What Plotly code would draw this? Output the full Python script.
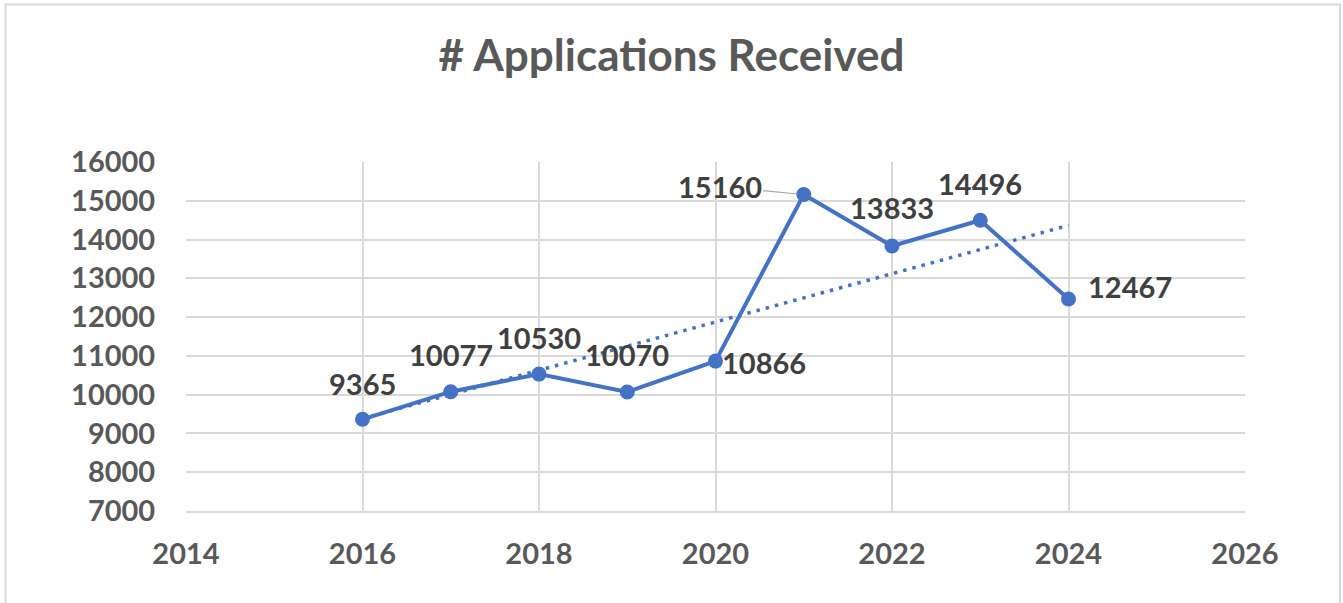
import numpy as np
import plotly.graph_objects as go

years = [2016, 2017, 2018, 2019, 2020, 2021, 2022, 2023, 2024]
applications = [9365, 10077, 10530, 10070, 10866, 15160, 13833, 14496, 12467]
x_ticks = [2014, 2016, 2018, 2020, 2022, 2024, 2026]
y_ticks = list(range(7000, 16001, 1000))
title_text = "# Applications Received"

BLUE = "#4472C4"
GRID = "#D9D9D9"
TICK_COL = "#595959"
LABEL_COL = "#404040"
FONT = "Lato"

# linear trendline (least squares)
slope, intercept = np.polyfit(years, applications, 1)
trend_x = [years[0], years[-1]]
trend_y = [slope * x + intercept for x in trend_x]

fig = go.Figure()
fig.add_trace(go.Scatter(x=trend_x, y=trend_y, mode="lines",
                         line=dict(color=BLUE, width=3.5, dash="3.5px,6px"),
                         hoverinfo="skip", showlegend=False))
fig.add_trace(go.Scatter(x=years, y=applications, mode="lines+markers",
                         line=dict(color=BLUE, width=4),
                         marker=dict(color=BLUE, size=15),
                         showlegend=False))

# label placement styles (pixel offsets): (xanchor, xshift, yshift)
label_style = [
    ("center", 0, 36), ("center", 0, 37), ("center", 0, 37), ("center", 0, 37),
    ("left", 4, -1), ("right", -44, 8), ("center", 0, 39), ("center", 0, 37),
    ("left", 17, 13),
]
for xv, yv, (xa, xs, ys) in zip(years, applications, label_style):
    if xa == "right":
        fig.add_annotation(x=xv, y=yv, text=f"<b>{yv}</b>", showarrow=True,
                           arrowhead=0, arrowwidth=1.2, arrowcolor="#A6A6A6",
                           ax=-84, ay=-8, standoff=6,
                           font=dict(family=FONT, size=29, color=LABEL_COL))
    else:
        fig.add_annotation(x=xv, y=yv, text=f"<b>{yv}</b>", showarrow=False,
                           xanchor=xa, yanchor="middle", xshift=xs, yshift=ys,
                           font=dict(family=FONT, size=29, color=LABEL_COL))

# outer chart border
fig.add_shape(type="rect", xref="paper", yref="paper",
              x0=(5.5 - 186) / 1059, x1=(1340 - 186) / 1059,
              y0=-0.5, y1=1 + (162 - 4.5) / 349,
              line=dict(color=GRID, width=2), layer="below")

fig.update_layout(
    width=1343, height=603,
    margin=dict(l=186, r=98, t=162, b=92),
    paper_bgcolor="white", plot_bgcolor="white",
    title=dict(text=f"<b>{title_text}</b>", x=0.5, xanchor="center",
               y=1 - 56 / 603, yanchor="middle",
               font=dict(family=FONT, size=44, color=TICK_COL)),
    font=dict(family=FONT),
)
fig.update_xaxes(range=[2014, 2026], tickvals=x_ticks,
                 ticktext=[f"<b>{t}</b>" for t in x_ticks],
                 showgrid=True, gridcolor=GRID, gridwidth=1.5,
                 zeroline=False, showline=True, linecolor=GRID, linewidth=2,
                 ticks="outside", ticklen=16, tickcolor="rgba(0,0,0,0)",
                 tickfont=dict(family=FONT, size=29, color=TICK_COL))
fig.update_yaxes(range=[7000, 16000], tickvals=y_ticks,
                 ticktext=[f"<b>{t}</b>" for t in y_ticks],
                 showgrid=True, gridcolor=GRID, gridwidth=1.5,
                 zeroline=False, showline=False,
                 ticks="outside", ticklen=24, tickcolor="rgba(0,0,0,0)",
                 tickfont=dict(family=FONT, size=29, color=TICK_COL))

fig.write_html("out.html", config={"displayModeBar": False},
               post_script="document.body.style.margin='0px';")
